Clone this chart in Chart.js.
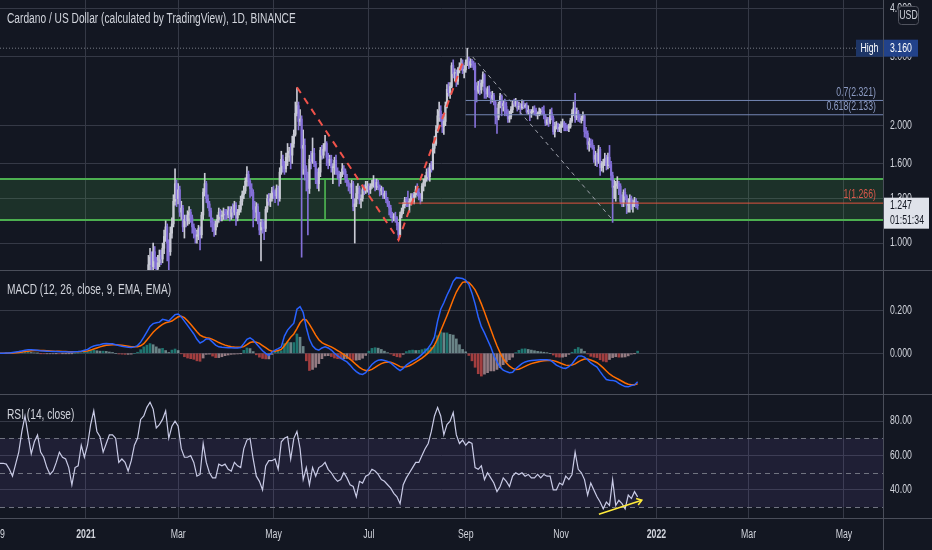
<!DOCTYPE html>
<html><head><meta charset="utf-8">
<script src="https://cdn.jsdelivr.net/npm/chart.js@4.4.1/dist/chart.umd.min.js"></script>
<style>
html,body{margin:0;padding:0;background:#131722;width:932px;height:550px;overflow:hidden;}
#wrap{position:relative;width:932px;height:550px;background:#131722;}
canvas{position:absolute;left:0;}
.ttl{position:absolute;left:7px;color:#d1d4dc;font-family:'Liberation Sans',Arial,sans-serif;font-size:14px;line-height:16px;white-space:nowrap;z-index:5;transform:scaleX(0.728);transform-origin:0 0;}
.sep{position:absolute;background:#4a4e5a;z-index:4;}
</style></head>
<body><div id="wrap">
<canvas id="cPrice" width="932" height="270" style="top:0px"></canvas>
<canvas id="cMacd" width="932" height="124" style="top:271px"></canvas>
<canvas id="cRsi" width="932" height="155" style="top:395px"></canvas>
<div class="sep" style="left:0;top:270px;width:932px;height:1px"></div>
<div class="sep" style="left:0;top:394px;width:932px;height:1px"></div>
<div class="sep" style="left:0;top:518px;width:932px;height:1px"></div>
<div class="sep" style="left:883px;top:0;width:1px;height:550px"></div>
<div class="ttl" style="top:10px">Cardano / US Dollar (calculated by TradingView), 1D, BINANCE</div>
<div class="ttl" style="top:281px">MACD (12, 26, close, 9, EMA, EMA)</div>
<div class="ttl" style="top:406px">RSI (14, close)</div>
</div>
<script>
const FONT = "'Liberation Sans',Arial,sans-serif";
const K = 0.728;                       // horizontal text condensation of the reference
const BG = '#131722', GRID = '#353946', TXT = '#d1d4dc';

// ---- time axis (days counted from 2021-01-01) ----
const xMinDay = -55, xMaxDay = 510;
const tickDays   = [0, 59, 120, 181, 243, 304, 365, 424, 485];
const tickLabels = ['2021', 'Mar', 'May', 'Jul', 'Sep', 'Nov', '2022', 'Mar', 'May'];
const yearLabels = ['2021', '2022'];
const partialTickLabel = '9';

// ---- daily candles, from 2021-02-05 ----
const candleStartDay = 35;
const opens = [
 0.45,0.50,0.56,0.62,0.70,0.78,0.88,0.92,0.87,0.95,0.90,0.86,0.89,0.93,0.91,0.97,1.04,1.10,1.00,0.95,1.06,1.12,1.28,1.42,
 1.30,1.37,1.20,1.23,1.10,1.15,1.14,1.18,1.20,1.16,1.10,1.07,1.04,1.05,1.09,1.05,1.18,1.35,1.42,1.30,1.26,1.21,1.13,1.10,1.08,1.12,1.15,1.20,1.17,1.18,1.20,
 1.19,1.18,1.21,1.17,1.22,1.20,1.25,1.16,1.20,1.22,1.28,1.33,1.36,1.44,1.50,1.44,1.38,1.35,1.22,1.20,1.24,1.14,1.08,1.13,1.10,1.09,1.22,1.30,1.28,1.30,
 1.36,1.35,1.32,1.38,1.30,1.52,1.64,1.58,1.55,1.66,1.70,1.72,1.68,1.80,1.90,2.15,2.25,2.05,2.08,1.75,1.78,1.55,1.50,1.38,1.64,1.62,1.70,1.60,1.47,1.42,1.52,
 1.73,1.68,1.74,1.80,1.66,1.60,1.64,1.56,1.57,1.63,1.53,1.50,1.47,1.50,1.55,1.53,1.46,1.43,1.40,1.39,1.42,1.24,1.26,1.34,1.38,1.29,1.30,1.37,1.36,1.39,
 1.40,1.37,1.40,1.42,1.45,1.39,1.43,1.40,1.36,1.38,1.32,1.34,1.29,1.26,1.23,1.17,1.16,1.17,1.16,1.11,1.05,1.18,1.21,1.25,1.29,1.28,1.27,1.28,1.32,1.31,1.33,
 1.37,1.35,1.31,1.30,1.40,1.43,1.46,1.52,1.48,1.58,1.55,1.75,1.80,1.95,2.12,2.18,2.10,1.99,2.05,2.25,2.48,2.43,2.52,2.85,2.72,2.72,2.60,2.78,2.83,2.88,2.77,
 2.78,2.90,2.95,2.86,2.92,2.89,2.85,2.47,2.45,2.53,2.47,2.57,2.70,2.45,2.41,2.48,2.40,2.35,2.39,2.30,2.12,2.10,2.27,2.38,2.25,2.28,2.24,2.15,2.08,2.11,
 2.20,2.28,2.27,2.30,2.23,2.24,2.22,2.27,2.24,2.25,2.17,2.19,2.16,2.17,2.20,2.19,2.14,2.14,2.17,2.19,2.18,2.12,2.03,2.07,2.04,2.16,2.09,1.93,1.99,2.01,1.96,
 1.98,2.01,2.03,2.00,1.98,1.97,1.99,2.06,2.15,2.22,2.10,2.17,2.10,2.07,2.09,2.12,1.93,1.91,1.79,1.82,1.80,1.76,1.64,1.68,1.62,1.74,1.56,1.60,1.61,1.65,
 1.58,1.66,1.59,1.49,1.39,1.40,1.41,1.42,1.40,1.28,1.27,1.35,1.32,1.25,1.26,1.30,1.24,1.26,1.28,1.25
];
const highs = [
 0.53,0.59,0.66,0.73,0.82,0.93,0.97,0.95,1.00,0.98,0.92,0.93,0.96,0.96,1.00,1.08,1.14,1.12,1.02,1.10,1.16,1.33,1.55,1.45,
 1.42,1.40,1.28,1.25,1.18,1.18,1.21,1.24,1.22,1.18,1.12,1.09,1.08,1.11,1.10,1.20,1.38,1.51,1.44,1.33,1.28,1.23,1.16,1.14,1.14,1.18,1.23,1.22,1.21,1.23,1.22,
 1.22,1.24,1.24,1.24,1.26,1.28,1.27,1.22,1.25,1.32,1.36,1.40,1.47,1.57,1.53,1.46,1.42,1.37,1.28,1.27,1.26,1.20,1.15,1.15,1.14,1.24,1.33,1.34,1.34,1.39,
 1.40,1.37,1.41,1.40,1.56,1.72,1.68,1.62,1.70,1.80,1.76,1.80,1.88,1.95,2.30,2.50,2.30,2.20,2.12,1.95,1.85,1.58,1.52,1.68,1.72,1.86,1.75,1.62,1.55,1.56,1.76,
 1.78,1.80,1.89,1.82,1.70,1.68,1.68,1.60,1.66,1.68,1.56,1.53,1.52,1.60,1.58,1.55,1.50,1.45,1.42,1.45,1.44,1.30,1.40,1.42,1.40,1.33,1.40,1.41,1.44,1.44,
 1.42,1.42,1.45,1.49,1.46,1.46,1.45,1.41,1.40,1.39,1.36,1.36,1.31,1.28,1.25,1.20,1.19,1.20,1.17,1.13,1.20,1.23,1.27,1.31,1.31,1.36,1.30,1.34,1.34,1.35,1.40,
 1.42,1.38,1.34,1.42,1.46,1.49,1.55,1.56,1.60,1.62,1.80,1.88,2.00,2.20,2.30,2.25,2.14,2.10,2.30,2.55,2.58,2.58,2.90,2.95,2.80,2.78,2.82,2.90,2.97,2.95,2.85,
 2.95,3.16,3.00,2.97,2.96,2.93,2.90,2.58,2.60,2.62,2.62,2.75,2.72,2.50,2.52,2.53,2.44,2.45,2.42,2.32,2.22,2.30,2.42,2.40,2.32,2.34,2.30,2.20,2.18,2.24,
 2.32,2.34,2.35,2.32,2.30,2.28,2.33,2.32,2.28,2.29,2.25,2.20,2.20,2.24,2.25,2.22,2.17,2.22,2.21,2.23,2.25,2.14,2.10,2.10,2.20,2.22,2.12,2.04,2.05,2.03,2.02,
 2.05,2.08,2.05,2.03,2.01,2.02,2.09,2.20,2.30,2.42,2.22,2.19,2.14,2.12,2.17,2.13,1.98,1.94,1.86,1.85,1.84,1.78,1.72,1.70,1.78,1.76,1.62,1.64,1.70,1.68,
 1.70,1.78,1.62,1.52,1.45,1.44,1.48,1.44,1.42,1.33,1.37,1.38,1.33,1.30,1.33,1.32,1.29,1.31,1.30,1.28
];
const lows = [
 0.44,0.49,0.54,0.60,0.68,0.76,0.84,0.84,0.85,0.86,0.80,0.83,0.87,0.88,0.89,0.94,1.01,0.90,0.82,0.93,1.03,1.10,1.25,1.24,
 1.26,1.17,1.15,1.07,1.03,1.10,1.11,1.12,1.13,1.06,1.03,1.00,1.00,1.02,0.96,1.03,1.15,1.32,1.27,1.23,1.17,1.10,1.07,1.04,1.05,1.10,1.13,1.14,1.14,1.15,1.15,
 1.15,1.16,1.14,1.15,1.16,1.18,1.11,1.14,1.18,1.20,1.25,1.30,1.34,1.40,1.40,1.31,1.32,1.10,1.16,1.14,1.12,1.05,0.90,1.06,1.02,1.07,1.20,1.25,1.24,1.28,
 1.30,1.27,1.30,1.25,1.28,1.50,1.52,1.50,1.52,1.58,1.62,1.55,1.60,1.76,1.88,2.12,1.95,2.00,0.92,1.50,1.45,1.36,1.05,1.34,1.55,1.60,1.57,1.42,1.38,1.36,1.48,
 1.64,1.65,1.72,1.58,1.55,1.58,1.52,1.42,1.50,1.50,1.46,1.40,1.42,1.48,1.50,1.43,1.40,1.36,1.34,1.30,1.21,1.00,1.24,1.30,1.26,1.23,1.28,1.33,1.34,1.35,
 1.33,1.34,1.38,1.39,1.36,1.37,1.37,1.32,1.33,1.30,1.30,1.27,1.24,1.18,1.16,1.13,1.14,1.13,1.08,1.02,1.04,1.16,1.19,1.23,1.24,1.24,1.20,1.25,1.28,1.26,1.31,
 1.32,1.29,1.26,1.28,1.36,1.40,1.44,1.45,1.44,1.52,1.54,1.70,1.78,1.92,2.05,2.05,1.92,1.90,2.00,2.22,2.38,2.35,2.50,2.65,2.60,2.52,2.55,2.73,2.78,2.72,2.65,
 2.74,2.85,2.80,2.82,2.82,2.78,1.98,2.30,2.42,2.40,2.42,2.52,2.35,2.35,2.37,2.36,2.28,2.30,2.26,2.02,1.91,2.07,2.22,2.12,2.18,2.12,2.12,2.04,2.04,2.08,
 2.16,2.24,2.24,2.18,2.20,2.14,2.20,2.21,2.22,2.15,2.14,2.06,2.10,2.15,2.13,2.12,2.08,2.12,2.13,2.14,2.08,2.00,2.01,1.99,2.02,2.07,1.90,1.87,1.96,1.93,1.93,
 1.92,1.98,1.94,1.94,1.94,1.93,1.97,2.04,2.12,2.04,2.07,2.05,2.04,2.03,2.06,1.87,1.86,1.74,1.72,1.76,1.74,1.61,1.58,1.57,1.60,1.49,1.53,1.52,1.58,1.54,
 1.55,1.56,1.45,1.13,1.30,1.28,1.38,1.33,1.26,1.24,1.24,1.29,1.19,1.20,1.20,1.22,1.20,1.24,1.23,1.22
];
const closes = [
 0.50,0.56,0.62,0.70,0.78,0.88,0.92,0.87,0.95,0.90,0.86,0.89,0.93,0.91,0.97,1.04,1.10,1.00,0.95,1.06,1.12,1.28,1.42,1.30,
 1.37,1.20,1.23,1.10,1.15,1.14,1.18,1.20,1.16,1.10,1.07,1.04,1.05,1.09,1.05,1.18,1.35,1.42,1.30,1.26,1.21,1.13,1.10,1.08,1.12,1.15,1.20,1.17,1.18,1.20,1.19,
 1.18,1.21,1.17,1.22,1.20,1.25,1.16,1.20,1.22,1.28,1.33,1.36,1.44,1.50,1.44,1.38,1.35,1.22,1.20,1.24,1.14,1.08,1.13,1.10,1.09,1.22,1.30,1.28,1.30,1.36,
 1.35,1.32,1.38,1.30,1.52,1.64,1.58,1.55,1.66,1.70,1.72,1.68,1.80,1.90,2.15,2.25,2.05,2.08,1.75,1.78,1.55,1.50,1.38,1.64,1.62,1.70,1.60,1.47,1.42,1.52,1.73,
 1.68,1.74,1.80,1.66,1.60,1.64,1.56,1.57,1.63,1.53,1.50,1.47,1.50,1.55,1.53,1.46,1.43,1.40,1.39,1.42,1.24,1.26,1.34,1.38,1.29,1.30,1.37,1.36,1.39,1.40,
 1.37,1.40,1.42,1.45,1.39,1.43,1.40,1.36,1.38,1.32,1.34,1.29,1.26,1.23,1.17,1.16,1.17,1.16,1.11,1.05,1.18,1.21,1.25,1.29,1.28,1.27,1.28,1.32,1.31,1.33,1.37,
 1.35,1.31,1.30,1.40,1.43,1.46,1.52,1.48,1.58,1.55,1.75,1.80,1.95,2.12,2.18,2.10,1.99,2.05,2.25,2.48,2.43,2.52,2.85,2.72,2.72,2.60,2.78,2.83,2.88,2.77,2.78,
 2.90,2.95,2.86,2.92,2.89,2.85,2.47,2.45,2.53,2.47,2.57,2.70,2.45,2.41,2.48,2.40,2.35,2.39,2.30,2.12,2.10,2.27,2.38,2.25,2.28,2.24,2.15,2.08,2.11,2.20,
 2.28,2.27,2.30,2.23,2.24,2.22,2.27,2.24,2.25,2.17,2.19,2.16,2.17,2.20,2.19,2.14,2.14,2.17,2.19,2.18,2.12,2.03,2.07,2.04,2.16,2.09,1.93,1.99,2.01,1.96,1.98,
 2.01,2.03,2.00,1.98,1.97,1.99,2.06,2.15,2.22,2.10,2.17,2.10,2.07,2.09,2.12,1.93,1.91,1.79,1.82,1.80,1.76,1.64,1.68,1.62,1.74,1.56,1.60,1.61,1.65,1.58,
 1.66,1.59,1.49,1.39,1.40,1.41,1.42,1.40,1.28,1.27,1.35,1.32,1.25,1.26,1.30,1.24,1.26,1.28,1.25,1.247
];
const priceTicks = [1.0, 1.3, 1.6, 2.0, 3.0, 4.0];
const priceMin = 0.853, priceMax = 4.2;
const lastPrice = 1.247, lastCountdown = '01:51:34';
const highPrice = 3.160;
const zoneTop = 1.459, zoneBottom = 1.146, zoneMarkDay = 153;
const fibLevels = [0.7, 0.618], fibPrices = [2.321, 2.133], fibStartDay = 243;
const targetLevel = 1, targetPrice = 1.266, targetStartDay = 200;
const zigzagDays = [135, 200, 242], zigzagPrices = [2.51, 1.018, 2.98];
const trendDays = [247.5, 337], trendPrices = [3.0, 1.146];

// ---- indicators, every 2nd day from day -55 ----
const indStartDay = -55, indStep = 2;
const macdLine = [
 0.000,0.000,0.001,0.002,0.004,0.006,0.008,0.011,0.014,0.016,
 0.016,0.015,0.014,0.012,0.011,0.010,0.009,0.008,0.008,0.007,
 0.007,0.007,0.006,0.006,0.007,0.008,0.010,0.014,0.018,0.028,
 0.034,0.037,0.040,0.044,0.046,0.045,0.044,0.040,0.036,0.033,
 0.030,0.028,0.027,0.030,0.036,0.052,0.075,0.100,0.125,0.138,
 0.142,0.145,0.158,0.155,0.150,0.165,0.180,0.183,0.170,0.150,
 0.130,0.110,0.090,0.065,0.048,0.055,0.068,0.066,0.052,0.038,
 0.030,0.028,0.027,0.026,0.026,0.025,0.025,0.027,0.045,0.065,
 0.072,0.062,0.045,0.028,0.012,0.000,-0.010,0.005,0.015,0.022,
 0.030,0.080,0.108,0.125,0.140,0.205,0.217,0.190,0.120,0.065,
 0.035,0.020,0.015,0.025,0.030,0.025,0.015,0.000,-0.012,-0.022,
 -0.032,-0.040,-0.055,-0.072,-0.085,-0.095,-0.098,-0.090,-0.070,-0.052,
 -0.040,-0.032,-0.030,-0.033,-0.038,-0.045,-0.058,-0.070,-0.080,-0.070,
 -0.055,-0.045,-0.035,-0.028,-0.018,-0.005,0.010,0.025,0.045,0.075,
 0.150,0.205,0.235,0.270,0.300,0.335,0.352,0.350,0.348,0.340,
 0.320,0.280,0.230,0.170,0.124,0.095,0.062,0.030,-0.010,-0.040,
 -0.065,-0.078,-0.085,-0.090,-0.088,-0.072,-0.060,-0.048,-0.040,-0.036,
 -0.033,-0.032,-0.031,-0.030,-0.030,-0.030,-0.032,-0.042,-0.055,-0.062,
 -0.068,-0.070,-0.062,-0.050,-0.030,-0.013,-0.012,-0.018,-0.030,-0.045,
 -0.055,-0.064,-0.085,-0.105,-0.122,-0.125,-0.126,-0.130,-0.140,-0.148,
 -0.155,-0.156,-0.150,-0.147,-0.132
];
const signalLine = [
 0.000,0.000,0.000,0.001,0.002,0.003,0.004,0.006,0.008,0.010,
 0.012,0.013,0.013,0.013,0.013,0.012,0.011,0.010,0.009,0.009,
 0.008,0.008,0.007,0.007,0.007,0.007,0.008,0.009,0.011,0.015,
 0.020,0.025,0.030,0.034,0.037,0.039,0.040,0.040,0.039,0.037,
 0.035,0.033,0.031,0.030,0.031,0.035,0.045,0.062,0.080,0.098,
 0.112,0.124,0.135,0.142,0.146,0.150,0.160,0.170,0.172,0.166,
 0.152,0.135,0.118,0.100,0.085,0.077,0.073,0.070,0.065,0.058,
 0.050,0.044,0.038,0.034,0.031,0.029,0.028,0.028,0.031,0.040,
 0.050,0.054,0.052,0.046,0.036,0.026,0.016,0.010,0.010,0.013,
 0.018,0.035,0.055,0.075,0.090,0.115,0.142,0.158,0.155,0.135,
 0.110,0.085,0.063,0.050,0.042,0.036,0.030,0.022,0.013,0.004,
 -0.006,-0.016,-0.027,-0.040,-0.053,-0.065,-0.075,-0.080,-0.080,-0.075,
 -0.066,-0.056,-0.048,-0.043,-0.041,-0.042,-0.047,-0.054,-0.062,-0.065,
 -0.063,-0.058,-0.050,-0.041,-0.032,-0.022,-0.011,0.002,0.018,0.038,
 0.068,0.105,0.140,0.175,0.212,0.250,0.285,0.310,0.330,0.333,
 0.330,0.315,0.295,0.265,0.230,0.192,0.152,0.112,0.072,0.035,
 0.002,-0.025,-0.045,-0.060,-0.070,-0.075,-0.074,-0.068,-0.061,-0.054,
 -0.048,-0.044,-0.040,-0.037,-0.035,-0.033,-0.032,-0.034,-0.038,-0.044,
 -0.050,-0.055,-0.057,-0.055,-0.049,-0.040,-0.032,-0.027,-0.027,-0.031,
 -0.037,-0.044,-0.055,-0.068,-0.082,-0.096,-0.106,-0.114,-0.122,-0.130,
 -0.138,-0.144,-0.146,-0.146,-0.142
];
const macdHist = [
 0,0,0.001,0.001,0.002,0.003,0.004,0.005,0.006,0.006,
 0.004,0.002,0.001,-0.001,-0.002,-0.002,-0.002,-0.002,-0.001,-0.002,
 -0.001,-0.001,-0.001,-0.001,0,0.001,0.002,0.005,0.007,0.013,
 0.014,0.012,0.010,0.010,0.009,0.006,0.004,0,-0.003,-0.004,
 -0.005,-0.005,-0.004,0,0.005,0.017,0.030,0.038,0.045,0.040,
 0.030,0.021,0.023,0.013,0.004,0.015,0.020,0.013,-0.002,-0.016,
 -0.022,-0.025,-0.028,-0.035,-0.037,-0.022,-0.005,-0.004,-0.013,-0.020,
 -0.020,-0.016,-0.011,-0.008,-0.005,-0.004,-0.003,-0.001,0.014,0.025,
 0.022,0.008,-0.007,-0.018,-0.024,-0.026,-0.026,-0.005,0.005,0.009,
 0.012,0.045,0.053,0.050,0.050,0.090,0.075,0.032,-0.035,-0.080,
 -0.075,-0.065,-0.048,-0.025,-0.012,-0.011,-0.015,-0.022,-0.025,-0.026,
 -0.026,-0.024,-0.028,-0.032,-0.032,-0.030,-0.023,-0.010,0.010,0.023,
 0.026,0.024,0.018,0.010,0.003,-0.003,-0.011,-0.016,-0.018,-0.005,
 0.008,0.013,0.015,0.013,0.014,0.017,0.021,0.023,0.027,0.037,
 0.082,0.100,0.095,0.095,0.088,0.085,0.067,0.040,0.018,0.007,
 -0.010,-0.035,-0.065,-0.095,-0.106,-0.097,-0.090,-0.082,-0.082,-0.075,
 -0.067,-0.053,-0.040,-0.030,-0.018,0.003,0.014,0.020,0.021,0.018,
 0.015,0.012,0.009,0.007,0.005,0.003,0,-0.008,-0.017,-0.018,
 -0.018,-0.015,-0.005,0.005,0.019,0.027,0.020,0.009,-0.003,-0.014,
 -0.018,-0.020,-0.030,-0.037,-0.040,-0.029,-0.020,-0.016,-0.018,-0.018,
 -0.017,-0.012,-0.004,-0.001,0.010
];
const macdTicks = [0, 0.2];
const macdMin = -0.194, macdMax = 0.383;

const rsiValues = [
 55.5,55.5,55,52,48,55,62,74,83,72,
 61,68,72,62,59,53,49,51,56,62,
 59,58,53,43,53,54,66,59,66,78,
 86,74,71,62,67,72,72,70,56,58,
 56,51,57,66,70,81,83,88,91,87,
 76,78,81,86,70,77,80,77,64,59,
 59,60,56,48,49,67,56,50,47,47,
 55,54,55,52,51,56,54,53,64,69,
 70,58,48,45,40,54,57,57,58,52,
 68,70,71,58,70,74,64,46,53,43,
 53,48,53,54,56,52,50,47,45,46,
 50,47,43,42,36,45,44,48,49,52,
 51,49,46,45,43,41,38,36,32,43,
 47,50,53,56,56,60,64,67,74,83,
 88,83,72,78,80,85,72,67,69,66,
 68,67,53,52,54,46,50,47,44,39,
 42,47,45,42,48,50,49,50,48,49,
 47,47,49,47,49,48,48,40,40,44,
 43,48,46,49,62,52,50,46,37,44,
 40,36,33,29,33,31,46,31,34,32,
 29,37,35,39,36
];
const rsiTicks = [40, 60, 80];
const rsiBands = [30, 50, 70];
const rsiMin = 23.1, rsiMax = 95.2;
const divDays = [328.2, 355.7], divRsi = [25.9, 34];

// ---------- helpers ----------
const candleDays = closes.map((_, i) => candleStartDay + i);
const indDays = macdLine.map((_, i) => indStartDay + i * indStep);
const UP = '#c8cad4', DOWN = '#8470d8';
const candleColors = closes.map((c, i) => c >= opens[i] ? UP : DOWN);
const histColors = macdHist.map((v, i) => {
  const p = i > 0 ? macdHist[i - 1] : 0;
  if (v >= 0) return v >= p ? 'rgba(38,166,154,0.65)' : 'rgba(178,223,219,0.55)';
  return v < p ? 'rgba(239,83,80,0.65)' : 'rgba(255,205,210,0.55)';
});
const pts = (xs, ys) => xs.map((x, i) => ({x, y: ys[i]}));

// condensed text drawing (the reference text is narrow)
function txt(ctx, s, x, y, align, font, color) {
  ctx.save();
  ctx.font = font; ctx.fillStyle = color; ctx.textAlign = align; ctx.textBaseline = 'middle';
  ctx.translate(x, y); ctx.scale(K, 1); ctx.fillText(s, 0, 0);
  ctx.restore();
}

function xScale(showLabels) {
  return {
    type: 'linear', min: xMinDay, max: xMaxDay, offset: false,
    afterBuildTicks: s => { s.ticks = tickDays.map(v => ({value: v})); },
    grid: {color: GRID, drawTicks: false, offset: false, lineWidth: 1},
    border: {display: false},
    ticks: {display: false},
    afterFit: s => { s.height = showLabels ? 31 : 0; }
  };
}
function yScale(extra, ticksArr) {
  return Object.assign({
    position: 'right',
    afterBuildTicks: s => { s.ticks = ticksArr.map(v => ({value: v})); },
    grid: {color: GRID, drawTicks: false, lineWidth: 1},
    border: {display: false},
    ticks: {display: false},
    afterFit: s => { s.width = 49; }
  }, extra);
}
function drawAxisLabels(chart, vals, fmt) {
  const {ctx, chartArea: a, scales: {y}} = chart;
  vals.forEach(v => txt(ctx, fmt(v), a.right + 7, y.getPixelForValue(v), 'left', '12px ' + FONT, TXT));
}
const common = {
  responsive: false, animation: false, events: [],
  layout: {padding: 0},
  plugins: {legend: {display: false}, tooltip: {enabled: false}}
};

// ---------- price chart ----------
const priceDecor = {
  id: 'priceDecor',
  afterDatasetsDraw(chart) {
    const {ctx, chartArea: a, scales: {y}} = chart;
    fibPrices.forEach((p, i) => txt(ctx, fibLevels[i] + '(' + p.toFixed(3) + ')', a.right - 7, y.getPixelForValue(p) - 8, 'right', '12px ' + FONT, '#8d9cc4'));
    txt(ctx, targetLevel + '(' + targetPrice.toFixed(3) + ')', a.right - 7, y.getPixelForValue(targetPrice) - 8, 'right', '12px ' + FONT, '#d9594c');
  },
  afterDraw(chart) {
    const {ctx, chartArea: a, scales: {y}} = chart;
    drawAxisLabels(chart, priceTicks, v => v.toFixed(3));
    ctx.save();
    // USD unit box
    ctx.fillStyle = BG; ctx.strokeStyle = '#50535e'; ctx.lineWidth = 1;
    ctx.beginPath(); ctx.roundRect(a.right + 15.5, 6.5, 20, 18, 3); ctx.fill(); ctx.stroke();
    // High label
    const yh = y.getPixelForValue(highPrice);
    ctx.fillStyle = '#1d3566'; ctx.fillRect(a.right - 27, yh - 8.5, 27, 17);
    ctx.fillStyle = '#22428a'; ctx.fillRect(a.right, yh - 8.5, 35, 17);
    // last price box
    const yl = y.getPixelForValue(lastPrice);
    ctx.fillStyle = '#dfe2ea'; ctx.fillRect(a.right, yl - 8, 46, 31);
    ctx.restore();
    txt(ctx, 'USD', a.right + 25.5, 16, 'center', '12px ' + FONT, TXT);
    txt(ctx, 'High', a.right - 13.5, yh, 'center', '12px ' + FONT, '#ffffff');
    txt(ctx, highPrice.toFixed(3), a.right + 7, yh, 'left', '12px ' + FONT, '#ffffff');
    txt(ctx, lastPrice.toFixed(3), a.right + 7, yl, 'left', '12px ' + FONT, '#131722');
    txt(ctx, lastCountdown, a.right + 7, yl + 15, 'left', '12px ' + FONT, '#131722');
  }
};
const lineDs = (data, color, width, dash, order, extra) => Object.assign({
  type: 'line', data, borderColor: color, borderWidth: width, borderDash: dash,
  pointRadius: 0, tension: 0, fill: false, order
}, extra || {});

new Chart(document.getElementById('cPrice'), {
  type: 'bar',
  data: {datasets: [
    lineDs(pts([xMinDay, xMaxDay], [zoneTop, zoneTop]), '#4caf50', 2, [], 10, {fill: '+1', backgroundColor: 'rgba(76,175,80,0.17)'}),
    lineDs(pts([xMinDay, xMaxDay], [zoneBottom, zoneBottom]), '#4caf50', 2, [], 10),
    lineDs(pts([zoneMarkDay, zoneMarkDay], [zoneTop, zoneBottom]), '#4caf50', 1, [], 10),
    {type: 'bar', data: candleDays.map((d, i) => ({x: d, y: [lows[i], highs[i]]})), backgroundColor: candleColors,
     barThickness: 1, grouped: false, borderWidth: 0, order: 6},
    {type: 'bar', data: candleDays.map((d, i) => ({x: d, y: [opens[i], closes[i]]})), backgroundColor: candleColors,
     barThickness: 1.5, grouped: false, borderWidth: 0, minBarLength: 1, order: 5},
    lineDs(pts([xMinDay, xMaxDay], [highPrice, highPrice]), '#787b86', 1, [1, 2], 3),
    lineDs(pts([fibStartDay, xMaxDay], [fibPrices[0], fibPrices[0]]), '#7486b4', 1, [], 3),
    lineDs(pts([fibStartDay, xMaxDay], [fibPrices[1], fibPrices[1]]), '#7486b4', 1, [], 3),
    lineDs(pts([targetStartDay, xMaxDay], [targetPrice, targetPrice]), '#e0533f', 1, [], 3),
    lineDs(pts(zigzagDays, zigzagPrices), '#f0524a', 2, [7, 6], 2),
    lineDs(pts(trendDays, trendPrices), '#a0a3ad', 1, [4, 4], 2)
  ]},
  options: Object.assign({}, common, {
    scales: {
      x: xScale(false),
      y: yScale({type: 'logarithmic', min: priceMin, max: priceMax}, priceTicks)
    }
  }),
  plugins: [priceDecor]
});

// ---------- MACD chart ----------
new Chart(document.getElementById('cMacd'), {
  type: 'bar',
  data: {datasets: [
    {type: 'bar', data: pts(indDays, macdHist), backgroundColor: histColors, barThickness: 2, grouped: false, borderWidth: 0, order: 5},
    lineDs(pts(indDays, signalLine), '#ff6d00', 1.5, [], 2),
    lineDs(pts(indDays, macdLine), '#2962ff', 1.5, [], 1)
  ]},
  options: Object.assign({}, common, {
    scales: {
      x: xScale(false),
      y: yScale({type: 'linear', min: macdMin, max: macdMax}, macdTicks)
    }
  }),
  plugins: [{id: 'macdLabels', afterDraw: c => drawAxisLabels(c, macdTicks, v => v.toFixed(3))}]
});

// ---------- RSI chart ----------
const rsiDecor = {
  id: 'rsiDecor',
  beforeDatasetsDraw(chart) {
    const {ctx, chartArea: a, scales: {y}} = chart;
    ctx.save();
    const yTop = y.getPixelForValue(rsiBands[2]), yBot = y.getPixelForValue(rsiBands[0]);
    ctx.fillStyle = 'rgba(126,87,194,0.12)';
    ctx.fillRect(a.left, yTop, a.right - a.left, yBot - yTop);
    ctx.strokeStyle = '#707380'; ctx.lineWidth = 1; ctx.setLineDash([5, 4]);
    rsiBands.forEach(v => {
      const yy = Math.round(y.getPixelForValue(v)) + 0.5;
      ctx.beginPath(); ctx.moveTo(a.left, yy); ctx.lineTo(a.right, yy); ctx.stroke();
    });
    ctx.restore();
  },
  afterDatasetsDraw(chart) {
    const {ctx, scales: {x, y}} = chart;
    const x0 = x.getPixelForValue(divDays[0]), y0 = y.getPixelForValue(divRsi[0]);
    const x1 = x.getPixelForValue(divDays[1]), y1 = y.getPixelForValue(divRsi[1]);
    const ang = Math.atan2(y1 - y0, x1 - x0), L = 6;
    ctx.save();
    ctx.strokeStyle = '#ffeb3b'; ctx.lineWidth = 1.5;
    ctx.beginPath();
    ctx.moveTo(x1 - L * Math.cos(ang - 0.6), y1 - L * Math.sin(ang - 0.6));
    ctx.lineTo(x1, y1);
    ctx.lineTo(x1 - L * Math.cos(ang + 0.6), y1 - L * Math.sin(ang + 0.6));
    ctx.stroke();
    ctx.restore();
  },
  afterDraw(chart) {
    const {ctx, chartArea: a, scales: {x}} = chart;
    drawAxisLabels(chart, rsiTicks, v => v.toFixed(2));
    const ly = a.bottom + 16;
    tickDays.forEach((d, i) => {
      const bold = yearLabels.includes(tickLabels[i]);
      txt(ctx, tickLabels[i], x.getPixelForValue(d), ly, 'center', (bold ? 'bold ' : '') + '12px ' + FONT, TXT);
    });
    txt(ctx, partialTickLabel, a.left, ly, 'left', '12px ' + FONT, TXT);
  }
};
new Chart(document.getElementById('cRsi'), {
  type: 'line',
  data: {datasets: [
    lineDs(pts(indDays, rsiValues), '#c9cbe6', 1.2, [], 2),
    lineDs(pts(divDays, divRsi), '#ffeb3b', 1.5, [], 1)
  ]},
  options: Object.assign({}, common, {
    scales: {
      x: xScale(true),
      y: yScale({type: 'linear', min: rsiMin, max: rsiMax}, rsiTicks)
    }
  }),
  plugins: [rsiDecor]
});
</script>
</body></html>
